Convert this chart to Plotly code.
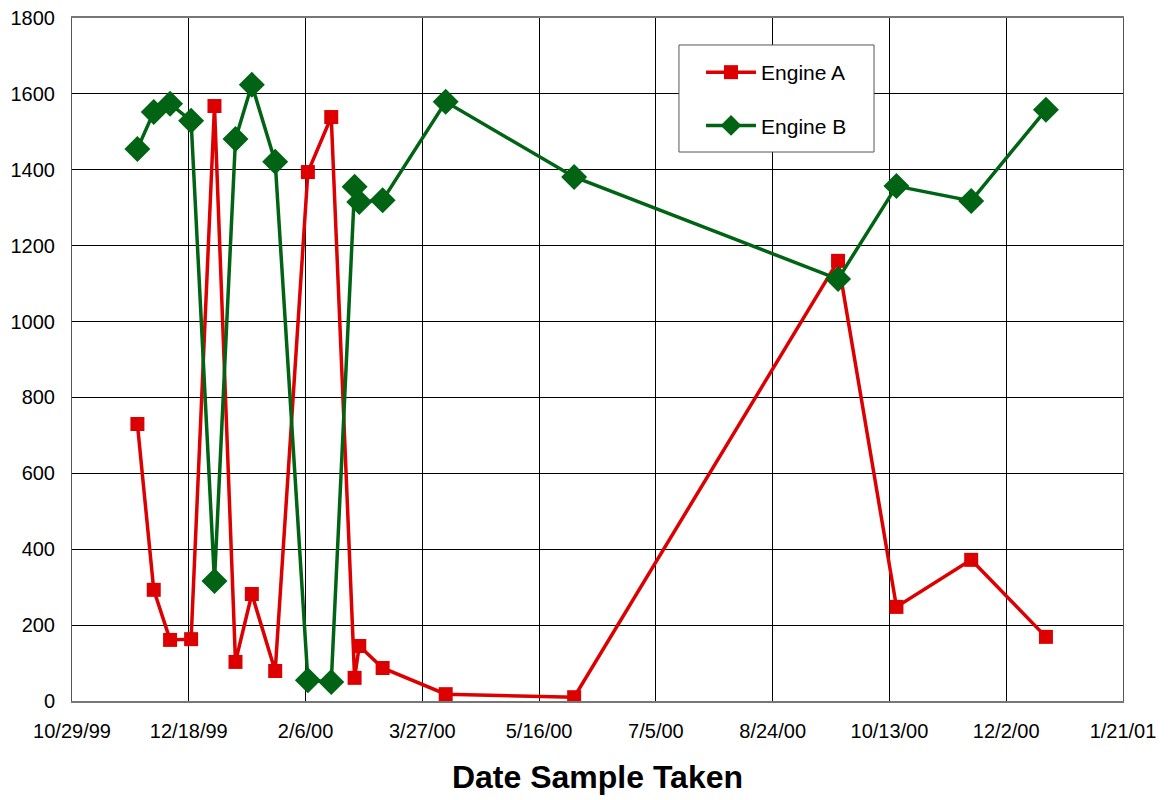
import plotly.graph_objects as go

dates = ["1999-11-26", "1999-12-03", "1999-12-10", "1999-12-19", "1999-12-29",
         "2000-01-07", "2000-01-14", "2000-01-24", "2000-02-07", "2000-02-17",
         "2000-02-27", "2000-02-29", "2000-03-10", "2000-04-06", "2000-05-31",
         "2000-09-21", "2000-10-16", "2000-11-17", "2000-12-19"]
engine_a = [730, 293, 161, 163, 1568, 103, 282, 79, 1394, 1539,
            61, 145, 87, 18, 10, 1160, 248, 372, 169]
engine_b = [1455, 1552, 1574, 1529, 316, 1481, 1624, 1421, 55, 50,
            1355, 1315, 1320, 1579, 1381, 1112, 1357, 1318, 1558]

x_range = ["1999-10-29", "2001-01-21"]
y_ticks = [0, 200, 400, 600, 800, 1000, 1200, 1400, 1600, 1800]

RED = "#DD0000"
GREEN = "#006414"

fig = go.Figure()
fig.add_trace(go.Scatter(x=dates, y=engine_a, name="Engine A", mode="lines+markers",
                         line=dict(color=RED, width=3.5),
                         marker=dict(symbol="square", size=14, color=RED),
                         legendgroup="a"))
fig.add_trace(go.Scatter(x=dates, y=engine_b, name="Engine B", mode="lines+markers",
                         line=dict(color=GREEN, width=3.5),
                         marker=dict(symbol="diamond", size=20, color=GREEN),
                         legendgroup="b"))

# legend frame
fig.add_shape(type="rect", xref="paper", yref="paper",
              x0=0.5775, x1=0.7631, y0=0.8038, y1=0.9605,
              fillcolor="white", line=dict(color="#555555", width=1), layer="above")

fig.update_layout(
    width=1160, height=792,
    margin=dict(l=64, r=45, t=10, b=99, autoexpand=False),
    paper_bgcolor="white", plot_bgcolor="white",
    font=dict(family="Liberation Sans, Arial, sans-serif", size=20, color="black"),
    showlegend=True,
    legend=dict(x=0.5985, y=0.9502, xanchor="left", yanchor="top",
                borderwidth=0, bgcolor="rgba(0,0,0,0)",
                font=dict(size=21), tracegroupgap=23, traceorder="grouped",
                itemwidth=50),
    xaxis=dict(type="date", range=x_range, tick0="1999-10-29",
               dtick=50 * 86400000, tickformat="%-m/%-d/%y",
               showgrid=True, gridcolor="black", gridwidth=1,
               showline=True, linecolor="#777777", linewidth=2, mirror=True,
               ticks="", ticklen=0, automargin=False, ticklabelstandoff=11,
               ticklabeloverflow="allow",
               title=dict(text="<b>Date Sample Taken</b>", font=dict(size=32), standoff=25)),
    yaxis=dict(range=[0, 1800], tickvals=y_ticks,
               showgrid=True, gridcolor="black", gridwidth=1,
               showline=True, linecolor="#555555", linewidth=1, mirror=True,
               ticks="", zeroline=False, automargin=False, ticklabelstandoff=12,
               ticklabeloverflow="allow"),
)

fig.write_html("out.html")
